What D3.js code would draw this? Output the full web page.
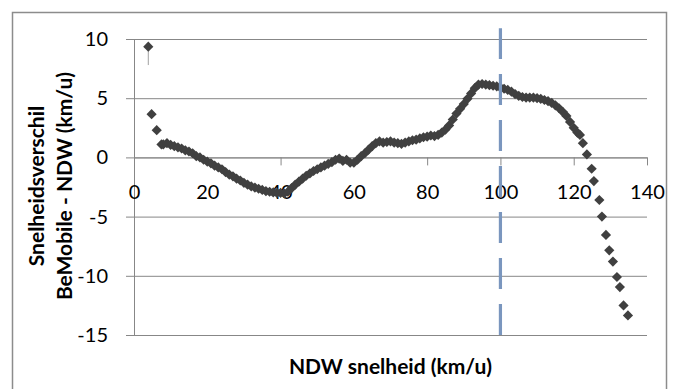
<!DOCTYPE html>
<html>
<head>
<meta charset="utf-8">
<script src="https://cdn.jsdelivr.net/npm/d3@7"></script>
<style>
  body { margin: 0; background: #fff; }
  text { font-family: Lato, "Open Sans", sans-serif; }
</style>
</head>
<body>
<div id="chart"></div>
<script>
// NDW speed (km/u) and difference BeMobile - NDW (km/u)
let ndwSpeed = [3.9, 4.8, 6.2, 7.5,
  8, 9, 10, 11, 12, 13, 14, 15, 16, 17, 18, 19, 20, 21, 22, 23, 24, 25, 26, 27, 28, 29, 30,
  31, 32, 33, 34, 35, 36, 37, 38, 39, 40, 41, 42, 43, 44, 45, 46, 47, 48, 49, 50,
  51, 52, 53, 54, 55, 56, 57, 58, 59, 60, 61, 62, 63, 64, 65, 66, 67, 68, 69, 70,
  71, 72, 73, 74, 75, 76, 77, 78, 79, 80, 81, 82, 83, 84, 85, 86, 87, 88, 89, 90,
  91, 92, 93, 94, 95, 96, 97, 98, 99, 100, 101, 102, 103, 104, 105, 106, 107, 108, 109, 110,
  111, 112, 113, 114, 115, 116, 117, 118, 119, 120, 121,
  121.7, 122.5, 123.6, 124.9, 125.5, 127.0, 127.7, 128.8, 129.7, 130.7, 131.8, 132.6, 133.6, 134.8]
let speedDiff = [9.35, 3.65, 2.3, 1.1,
  1.1, 1.2, 1.05, 0.95, 0.85, 0.75, 0.6, 0.5, 0.35, 0.1, 0.0, -0.2, -0.35, -0.5, -0.7, -0.85, -1.0, -1.25, -1.45, -1.6, -1.8, -1.95, -2.15,
  -2.3, -2.45, -2.55, -2.65, -2.75, -2.85, -2.9, -2.95, -3.0, -3.0, -3.05, -2.9, -2.6, -2.3, -2.05, -1.8, -1.55, -1.35, -1.15, -1.0,
  -0.85, -0.7, -0.55, -0.4, -0.2, -0.1, -0.3, -0.2, -0.45, -0.45, -0.2, 0.1, 0.35, 0.65, 0.95, 1.2, 1.35, 1.25, 1.3, 1.35,
  1.25, 1.2, 1.15, 1.25, 1.35, 1.45, 1.5, 1.6, 1.7, 1.75, 1.85, 1.8, 1.9, 2.1, 2.35, 2.7, 3.2, 3.7, 4.1, 4.5,
  4.95, 5.4, 5.85, 6.15, 6.2, 6.15, 6.1, 6.05, 6.0, 5.9, 5.8, 5.7, 5.55, 5.35, 5.2, 5.1, 5.05, 5.05, 5.05, 5.0,
  4.95, 4.85, 4.75, 4.6, 4.4, 4.15, 3.85, 3.5, 3.0, 2.5, 2.1,
  1.9, 1.2, 0.25, -0.96, -2.0, -3.6, -5.0, -6.55, -7.85, -8.8, -10.1, -10.95, -12.5, -13.35]
// lower end of the thin whisker under the first point
let firstWhiskerLow = 7.8

let xTicks = [0, 20, 40, 60, 80, 100, 120, 140]
let yTicks = [-15, -10, -5, 0, 5, 10]
let refSpeed = 100
let xTitle = "NDW snelheid (km/u)"
let yTitle = ["Snelheidsverschil", "BeMobile - NDW (km/u)"]

let W = 678, H = 389
let plotLeft = 134, plotRight = 647, plotTop = 39, plotBottom = 335

let svg = d3.select("#chart")
  .append("svg")
  .attr("width", W)
  .attr("height", H)

// chart border
svg.append("rect")
  .attr("x", 12.5).attr("y", 12.5)
  .attr("width", 654).attr("height", 390)
  .attr("fill", "none")
  .attr("stroke", "#8c8c8c")
  .attr("stroke-width", 1.5)

let xScale = d3.scaleLinear().domain([0, 140]).range([plotLeft, plotRight])
let yScale = d3.scaleLinear().domain([-15, 10]).range([plotBottom, plotTop])

// horizontal gridlines
svg.append("g")
  .attr("class", "grid")
  .attr("transform", "translate(" + plotLeft + ",0)")
  .call(d3.axisLeft(yScale).tickValues(yTicks).tickSize(-(plotRight - plotLeft)).tickFormat(""))
  .call(g => g.select(".domain").remove())
  .call(g => g.selectAll("line").attr("stroke", "#878787"))

// y axis (plain hyphen minus, like the original)
svg.append("g")
  .attr("class", "yaxis")
  .attr("transform", "translate(" + plotLeft + ",0)")
  .call(d3.axisLeft(yScale).tickValues(yTicks).tickFormat(d => String(d))
    .tickSize(8).tickSizeOuter(0).tickPadding(18))
  .call(g => g.select(".domain").attr("stroke", "#878787"))
  .call(g => g.selectAll("line").attr("stroke", "#878787"))
  .call(g => g.selectAll("text").attr("font-size", 20).attr("font-family", "Lato").attr("fill", "#000"))

// x axis through zero
svg.append("g")
  .attr("class", "xaxis")
  .attr("transform", "translate(0," + yScale(0) + ")")
  .call(d3.axisBottom(xScale).tickValues(xTicks).tickFormat(d => String(d))
    .tickSize(8).tickSizeOuter(0))
  .call(g => g.select(".domain").attr("stroke", "#878787"))
  .call(g => g.selectAll("line").attr("stroke", "#878787"))
  .call(g => g.selectAll("text")
    .attr("y", 35).attr("dy", "0.35em")
    .attr("font-size", 20).attr("font-family", "Lato").attr("fill", "#000"))

let data = ndwSpeed.map((s, i) => ({ x: s, y: speedDiff[i] }))

// whisker under first point
svg.append("line")
  .attr("x1", xScale(data[0].x)).attr("x2", xScale(data[0].x))
  .attr("y1", yScale(data[0].y)).attr("y2", yScale(firstWhiskerLow))
  .attr("stroke", "#a0a0a0")
  .attr("stroke-width", 1)

let diamond = d3.symbol().type(d3.symbolSquare).size(52)
svg.append("g")
  .attr("class", "points")
  .selectAll("path")
  .data(data)
  .enter()
  .append("path")
    .attr("d", diamond)
    .attr("transform", d => "translate(" + xScale(d.x) + "," + yScale(d.y) + ") rotate(45)")
    .attr("fill", "#404040")

// dashed reference line at 100 km/u
svg.append("line")
  .attr("x1", xScale(refSpeed)).attr("x2", xScale(refSpeed))
  .attr("y1", yScale(-15)).attr("y2", yScale(10.9))
  .attr("stroke", "#7a96be")
  .attr("stroke-width", 3.2)
  .attr("stroke-dasharray", "31,15")

// axis titles
svg.append("text")
  .attr("x", (plotLeft + plotRight) / 2)
  .attr("y", 367)
  .attr("dy", "0.35em")
  .attr("text-anchor", "middle")
  .attr("font-size", 21)
  .attr("font-weight", "bold")
  .text(xTitle)

svg.append("text")
  .attr("transform", "translate(46,186) rotate(-90)")
  .attr("text-anchor", "middle")
  .attr("font-size", 21)
  .attr("font-weight", "bold")
  .selectAll("tspan")
  .data(yTitle)
  .enter()
  .append("tspan")
    .attr("x", 0)
    .attr("dy", (d, i) => i === 0 ? "-0.08em" : "1.33em")
    .text(d => d)
</script>
</body>
</html>
